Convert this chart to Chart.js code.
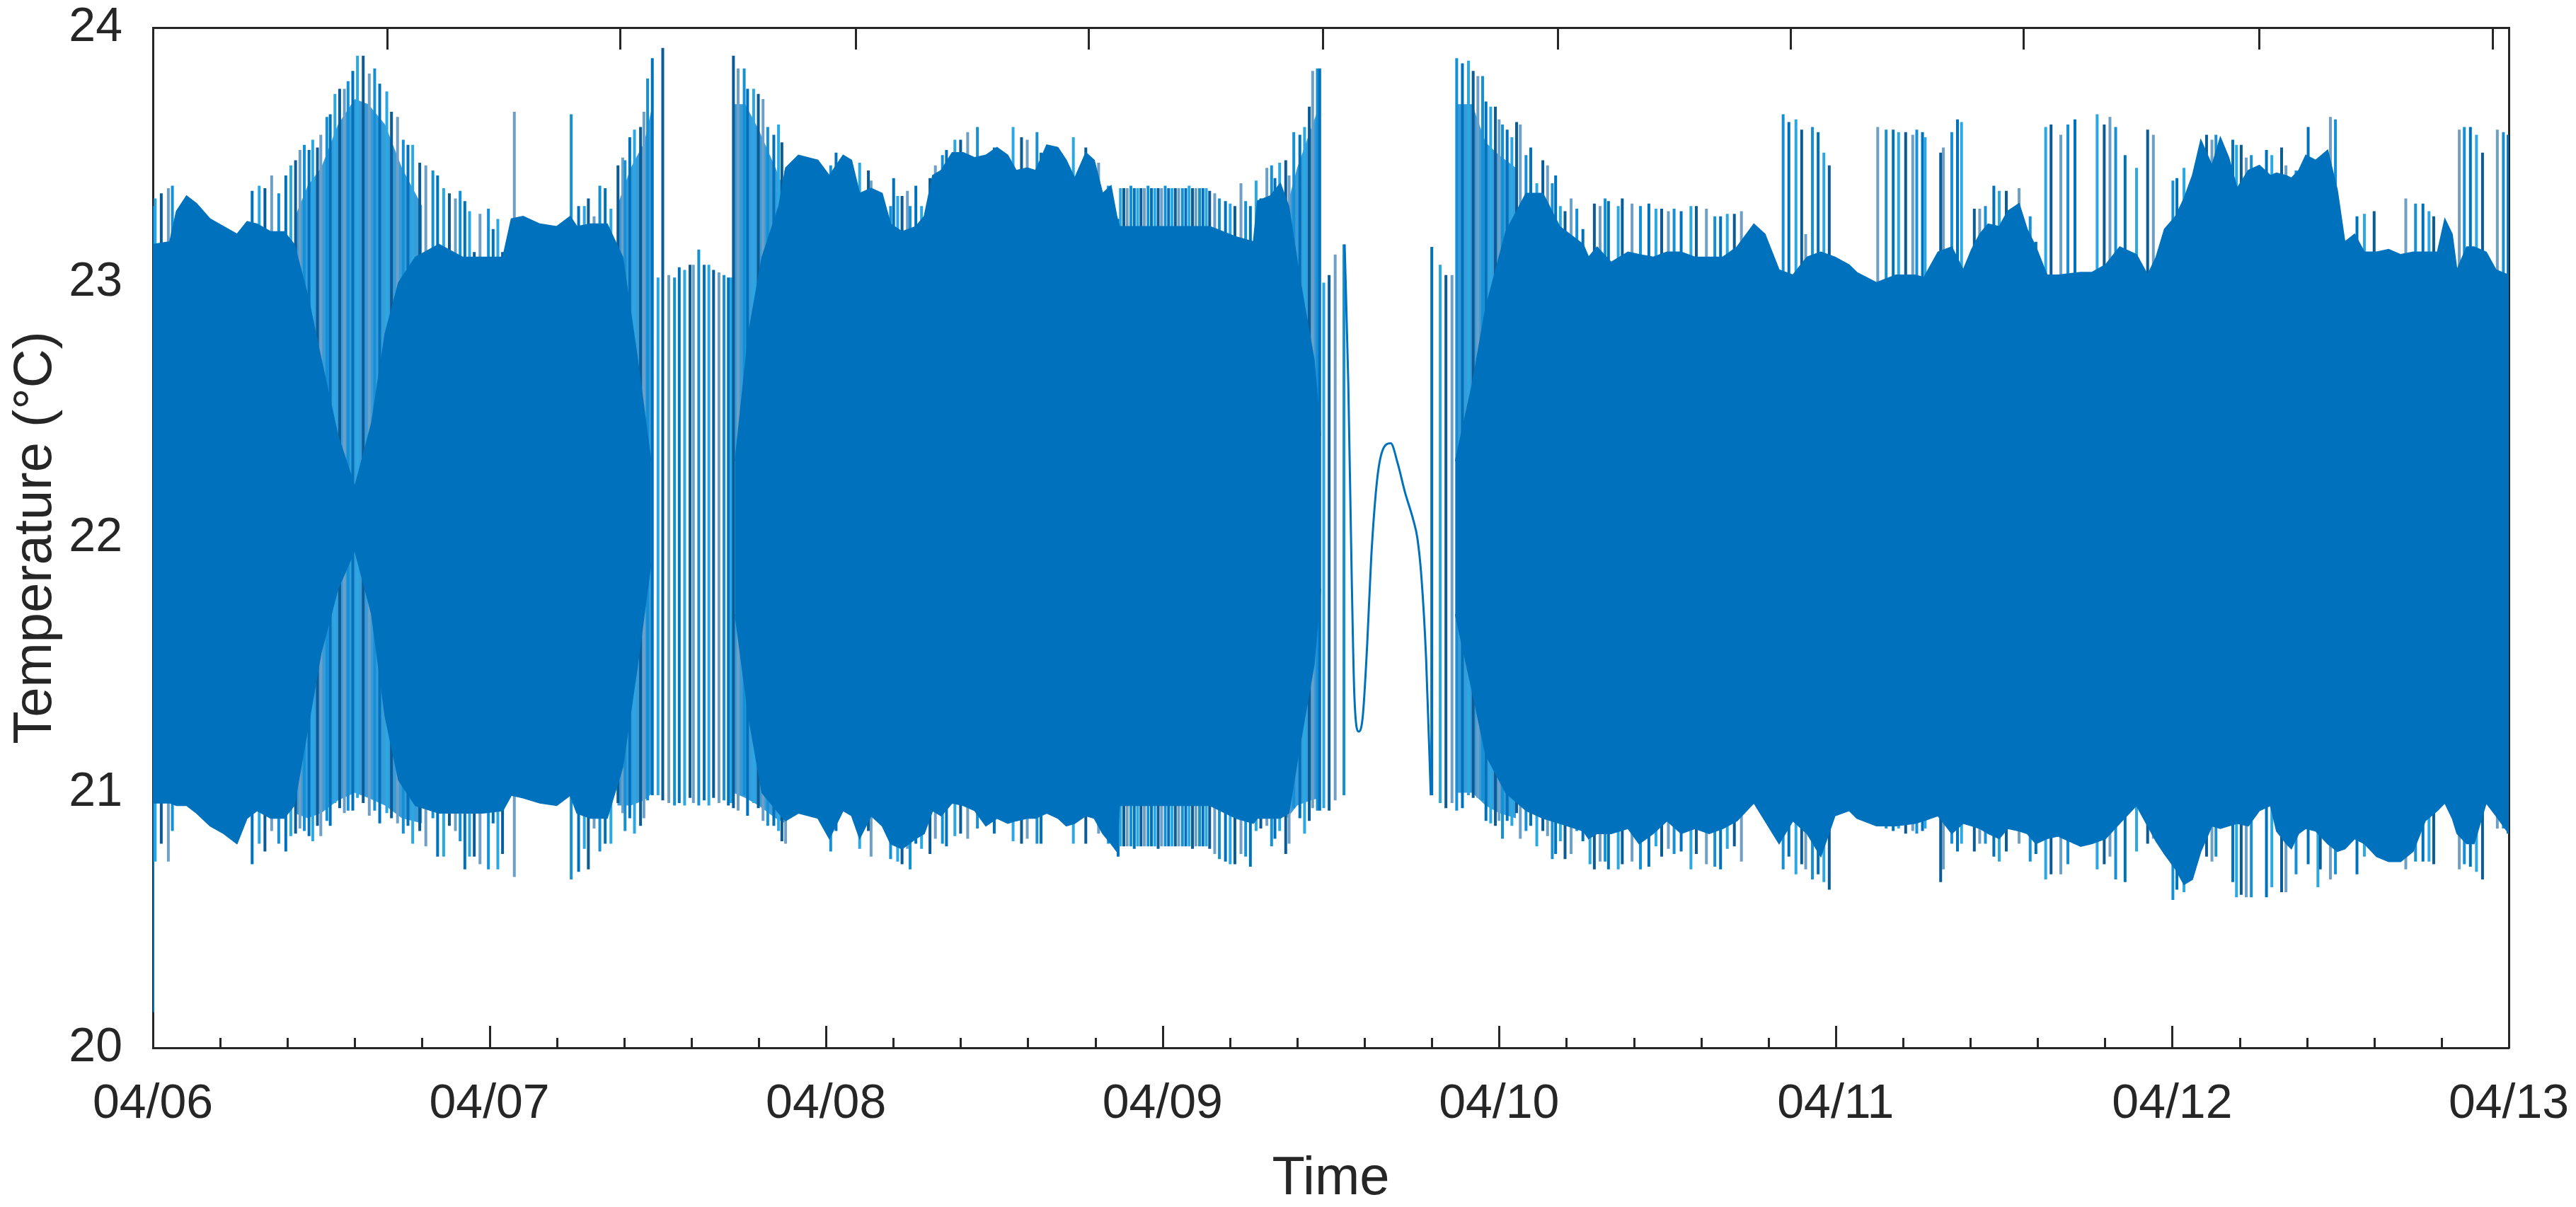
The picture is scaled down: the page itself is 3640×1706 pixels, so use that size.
<!DOCTYPE html>
<html>
<head>
<meta charset="utf-8">
<script src="https://cdn.jsdelivr.net/npm/chart.js@4.4.1/dist/chart.umd.min.js"></script>
<style>
  html, body { margin: 0; padding: 0; background: #fff; }
  #wrap { width: 3640px; height: 1706px; }
</style>
</head>
<body>
<div id="wrap"><canvas id="chart"></canvas></div>
<script>
// x values are days after 04/06 00:00
const dayLabels = ['04/06', '04/07', '04/08', '04/09', '04/10', '04/11', '04/12', '04/13'];
const tempTicks = [20, 21, 22, 23, 24];
const topTickDays = [0.696, 1.388, 2.088, 2.78, 3.475, 4.174, 4.866, 5.557, 6.257, 6.951];

// solid core of the oscillation (upper / lower edge), null where the trace is sparse
const bandDays = [
  0.000, 0.050, 0.070, 0.100, 0.130, 0.170, 0.210, 0.250, 0.280, 0.310,
  0.350, 0.390, 0.420, 0.460, 0.500, 0.550, 0.600, 0.650, 0.690, 0.730,
  0.780, 0.850, 0.920, 0.980, 1.040, 1.065, 1.100, 1.150, 1.200, 1.240,
  1.260, 1.300, 1.350, 1.396, 1.440, 1.480, 1.490, 1.730, 1.770, 1.810,
  1.860, 1.880, 1.918, 1.976, 2.010, 2.051, 2.076, 2.100, 2.134, 2.167,
  2.192, 2.226, 2.267, 2.292, 2.317, 2.342, 2.375, 2.408, 2.442, 2.475,
  2.508, 2.540, 2.565, 2.598, 2.623, 2.656, 2.689, 2.714, 2.739, 2.772,
  2.797, 2.822, 2.847, 2.864, 2.872, 3.141, 3.218, 3.270, 3.282, 3.320,
  3.350, 3.375, 3.410, 3.450, 3.470, 3.480, 3.870, 3.920, 3.960, 4.020,
  4.080, 4.130, 4.180, 4.250, 4.266, 4.291, 4.333, 4.383, 4.416, 4.458,
  4.499, 4.541, 4.582, 4.624, 4.665, 4.707, 4.757, 4.790, 4.832, 4.873,
  4.915, 4.956, 4.998, 5.040, 5.063, 5.121, 5.179, 5.237, 5.262, 5.304,
  5.345, 5.379, 5.404, 5.428, 5.453, 5.486, 5.511, 5.545, 5.569, 5.595,
  5.628, 5.661, 5.728, 5.761, 5.802, 5.844, 5.894, 5.927, 5.952, 5.977,
  6.010, 6.035, 6.060, 6.085, 6.118, 6.143, 6.168, 6.193, 6.226, 6.259,
  6.292, 6.310, 6.339, 6.354, 6.376, 6.397, 6.426, 6.462, 6.491, 6.513,
  6.542, 6.571, 6.607, 6.643, 6.679, 6.716, 6.752, 6.788, 6.810, 6.832,
  6.846, 6.875, 6.897, 6.933, 6.962, 7.000
];
const bandHi = [
  23.15, 23.16, 23.28, 23.34, 23.31, 23.25, 23.22, 23.19, 23.24, 23.23,
  23.20, 23.20, 23.15, 22.95, 22.70, 22.40, 22.20, 22.45, 22.80, 23.00,
  23.10, 23.15, 23.10, 23.10, 23.10, 23.25, 23.26, 23.23, 23.22, 23.26,
  23.22, 23.23, 23.23, 23.10, 22.70, 22.30, null, 22.30, 22.80, 23.10,
  23.30, 23.45, 23.50, 23.48, 23.42, 23.50, 23.48, 23.35, 23.37, 23.35,
  23.23, 23.20, 23.22, 23.26, 23.42, 23.44, 23.51, 23.51, 23.49, 23.50,
  23.53, 23.50, 23.44, 23.45, 23.44, 23.54, 23.53, 23.48, 23.41, 23.51,
  23.48, 23.35, 23.38, 23.26, 23.22, 23.22, 23.18, 23.16, 23.32, 23.34,
  23.39, 23.30, 23.00, 22.70, 22.40, null, 22.30, 22.60, 22.90, 23.20,
  23.35, 23.35, 23.22, 23.15, 23.10, 23.14, 23.08, 23.12, 23.11, 23.10,
  23.12, 23.12, 23.10, 23.10, 23.10, 23.14, 23.23, 23.19, 23.05, 23.03,
  23.10, 23.12, 23.10, 23.07, 23.04, 23.00, 23.03, 23.03, 23.02, 23.12,
  23.14, 23.05, 23.13, 23.19, 23.23, 23.22, 23.28, 23.31, 23.21, 23.14,
  23.03, 23.03, 23.04, 23.04, 23.07, 23.14, 23.11, 23.03, 23.10, 23.21,
  23.26, 23.33, 23.42, 23.56, 23.46, 23.57, 23.49, 23.37, 23.44, 23.46,
  23.42, 23.43, 23.42, 23.41, 23.44, 23.50, 23.48, 23.52, 23.36, 23.16,
  23.19, 23.12, 23.12, 23.13, 23.11, 23.12, 23.12, 23.12, 23.25, 23.19,
  23.05, 23.14, 23.14, 23.12, 23.05, 23.03
];
const bandLo = [
  20.96, 20.96, 20.95, 20.95, 20.92, 20.87, 20.84, 20.80, 20.90, 20.93,
  20.90, 20.90, 20.95, 21.25, 21.55, 21.80, 21.95, 21.70, 21.30, 21.05,
  20.95, 20.92, 20.92, 20.92, 20.93, 20.99, 20.98, 20.96, 20.95, 20.99,
  20.92, 20.90, 20.90, 21.10, 21.50, 21.90, null, 21.70, 21.30, 21.00,
  20.92, 20.89, 20.92, 20.90, 20.82, 20.93, 20.91, 20.82, 20.91, 20.87,
  20.80, 20.78, 20.82, 20.84, 20.93, 20.91, 20.96, 20.95, 20.93, 20.87,
  20.90, 20.88, 20.89, 20.90, 20.90, 20.92, 20.90, 20.87, 20.88, 20.91,
  20.90, 20.84, 20.80, 20.77, 20.95, 20.95, 20.90, 20.88, 20.90, 20.90,
  20.90, 20.92, 21.20, 21.50, 21.80, null, 21.70, 21.40, 21.15, 21.00,
  20.93, 20.90, 20.88, 20.85, 20.82, 20.84, 20.84, 20.86, 20.80, 20.84,
  20.89, 20.84, 20.86, 20.84, 20.86, 20.89, 20.96, 20.89, 20.80, 20.89,
  20.84, 20.75, 20.91, 20.93, 20.90, 20.87, 20.87, 20.88, 20.89, 20.91,
  20.84, 20.88, 20.87, 20.86, 20.84, 20.82, 20.86, 20.85, 20.84, 20.80,
  20.82, 20.83, 20.79, 20.80, 20.82, 20.88, 20.95, 20.87, 20.81, 20.76,
  20.70, 20.64, 20.66, 20.77, 20.87, 20.86, 20.87, 20.88, 20.87, 20.93,
  20.95, 20.85, 20.80, 20.78, 20.84, 20.86, 20.85, 20.80, 20.77, 20.78,
  20.82, 20.80, 20.75, 20.73, 20.73, 20.77, 20.89, 20.93, 20.96, 20.90,
  20.84, 20.80, 20.80, 20.96, 20.91, 20.84
];

// lighter striped zone where the cycles are just resolved
const hazeDays = [
  0.420, 0.460, 0.500, 0.550, 0.600, 0.640, 0.690, 0.740, 0.800, 0.810,
  1.380, 1.420, 1.460, 1.485, 1.490,
  1.725, 1.760, 1.800, 1.850, 1.880, 1.885,
  3.370, 3.400, 3.440, 3.468, 3.470,
  3.874, 3.920, 3.960, 4.000, 4.050, 4.060
];
const hazeHi = [
  23.25, 23.38, 23.45, 23.62, 23.72, 23.70, 23.62, 23.45, 23.30, null,
  23.30, 23.45, 23.55, 23.70, null,
  23.70, 23.70, 23.60, 23.45, 23.35, null,
  23.30, 23.45, 23.60, 23.70, null,
  23.70, 23.70, 23.55, 23.50, 23.45, null
];
const hazeLo = [
  20.92, 20.90, 20.92, 20.97, 21.00, 20.98, 20.95, 20.90, 20.88, null,
  20.95, 20.95, 20.97, 21.00, null,
  21.00, 20.98, 20.95, 20.90, 20.88, null,
  20.90, 20.95, 20.97, 20.98, null,
  21.00, 21.00, 20.95, 20.92, 20.90, null
];

// single cycles that stand out of the core (time, peak, trough)
const spikeDays = [
  0.000, 0.007, 0.025, 0.046, 0.058,
  0.295, 0.316, 0.333, 0.353, 0.374, 0.395, 0.410, 0.424, 0.437,
  0.450, 0.464, 0.475, 0.489, 0.499, 0.517, 0.527, 0.541, 0.555, 0.569,
  0.580, 0.594, 0.608, 0.625, 0.643, 0.659, 0.674, 0.695, 0.709, 0.727,
  0.744, 0.758, 0.772, 0.793, 0.811, 0.832, 0.846, 0.864, 0.881, 0.899,
  0.913, 0.927, 0.941, 0.955, 0.972, 0.997, 1.011, 1.025, 1.039, 1.074,
  1.243, 1.265, 1.282, 1.294, 1.311, 1.328, 1.344, 1.361, 1.382,
  1.396, 1.403, 1.417, 1.431, 1.449, 1.459, 1.470, 1.484, 1.501, 1.515,
  1.533, 1.550, 1.564, 1.580, 1.596, 1.606, 1.622, 1.638, 1.652, 1.666,
  1.682, 1.697, 1.710, 1.718, 1.725, 1.739, 1.757, 1.767, 1.785, 1.799,
  1.813, 1.827, 1.845, 1.859, 1.869, 1.880, 2.014, 2.030, 2.100, 2.126,
  2.134, 2.192, 2.201, 2.213, 2.226, 2.242, 2.250, 2.267, 2.284, 2.309,
  2.325, 2.346, 2.358, 2.383, 2.400, 2.421, 2.450, 2.500, 2.556, 2.581,
  2.598, 2.627, 2.639, 2.735, 2.772, 2.810, 2.839, 2.868,
  2.875, 2.885, 2.895, 2.906, 2.916, 2.926, 2.936, 2.946, 2.957,
  2.967, 2.977, 2.987, 2.997, 3.008, 3.018, 3.028, 3.038, 3.048,
  3.059, 3.069, 3.079, 3.089, 3.099, 3.110, 3.120, 3.130, 3.140,
  3.155, 3.169, 3.187, 3.201, 3.215, 3.233, 3.247, 3.261, 3.278, 3.292,
  3.310, 3.324, 3.334, 3.348, 3.366, 3.376, 3.390, 3.408, 3.422, 3.436,
  3.446, 3.460, 3.467, 3.479, 3.495, 3.513, 3.539,
  3.800, 3.825, 3.842, 3.860, 3.874, 3.891, 3.909, 3.923, 3.937, 3.951,
  3.961, 3.975, 3.989, 4.000, 4.010, 4.024, 4.038, 4.052, 4.063, 4.080,
  4.094, 4.112, 4.130, 4.144, 4.158, 4.168, 4.182, 4.196, 4.214, 4.231,
  4.249, 4.270, 4.283, 4.300, 4.315, 4.325, 4.354, 4.366, 4.395, 4.420,
  4.445, 4.466, 4.483, 4.503, 4.520, 4.541, 4.570, 4.586, 4.616, 4.641,
  4.658, 4.678, 4.699, 4.720, 4.844, 4.861, 4.882, 4.899, 4.911, 4.931,
  4.948, 4.965, 4.981, 5.125, 5.150, 5.171, 5.187, 5.208, 5.229, 5.241,
  5.258, 5.266, 5.312, 5.320, 5.345, 5.362, 5.374, 5.412, 5.428, 5.445,
  5.470, 5.486, 5.507, 5.545, 5.578, 5.595, 5.624, 5.640, 5.669, 5.690,
  5.711, 5.777, 5.798, 5.815, 5.832, 5.860, 5.894, 5.927, 5.944, 6.002,
  6.014, 6.035, 6.102, 6.118, 6.130, 6.180, 6.191, 6.205, 6.220, 6.235,
  6.280, 6.296, 6.325, 6.338, 6.368, 6.404, 6.433, 6.440, 6.470, 6.485,
  6.549, 6.571, 6.600, 6.694, 6.723, 6.745, 6.763, 6.777, 6.853, 6.868,
  6.886, 6.904, 6.922, 6.966, 6.984, 6.998
];
const spikeHi = [
  23.30, 23.33, 23.35, 23.37, 23.38,
  23.36, 23.38, 23.37, 23.42, 23.35, 23.42, 23.46, 23.48, 23.52,
  23.54, 23.52, 23.56, 23.53, 23.58, 23.65, 23.66, 23.74, 23.76, 23.76,
  23.79, 23.83, 23.89, 23.89, 23.82, 23.84, 23.78, 23.75, 23.67, 23.65,
  23.56, 23.54, 23.54, 23.47, 23.46, 23.44, 23.42, 23.37, 23.35, 23.33,
  23.36, 23.32, 23.28, 23.12, 23.27, 23.29, 23.21, 23.25, 23.12, 23.67,
  23.66, 23.30, 23.30, 23.33, 23.26, 23.38, 23.37, 23.29, 23.46,
  23.49, 23.48, 23.57, 23.60, 23.61, 23.67, 23.80, 23.88, 23.02, 23.92,
  23.03, 23.02, 23.06, 23.05, 23.07, 23.07, 23.13, 23.07, 23.07, 23.05,
  23.04, 23.03, 23.02, 23.02, 23.89, 23.84, 23.84, 23.76, 23.76, 23.74,
  23.72, 23.61, 23.58, 23.62, 23.55, 23.44, 23.46, 23.51, 23.47, 23.44,
  23.40, 23.30, 23.41, 23.34, 23.34, 23.36, 23.30, 23.38, 23.30, 23.41,
  23.46, 23.50, 23.52, 23.56, 23.56, 23.59, 23.61, 23.53, 23.61, 23.57,
  23.56, 23.59, 23.51, 23.57, 23.53, 23.47, 23.38, 23.25,
  23.37, 23.37, 23.37, 23.38, 23.37, 23.37, 23.37, 23.37, 23.38,
  23.37, 23.37, 23.37, 23.37, 23.38, 23.37, 23.37, 23.37, 23.37,
  23.37, 23.37, 23.38, 23.37, 23.37, 23.37, 23.37, 23.37, 23.36,
  23.35, 23.33, 23.32, 23.31, 23.30, 23.39, 23.32, 23.30, 23.40, 23.33,
  23.45, 23.46, 23.41, 23.47, 23.48, 23.42, 23.59, 23.58, 23.61, 23.69,
  23.83, 23.84, 23.84, 23.00, 23.03, 23.11, 23.15,
  23.14, 23.07, 23.03, 23.03, 23.88, 23.86, 23.87, 23.83, 23.81, 23.81,
  23.71, 23.69, 23.69, 23.64, 23.62, 23.60, 23.57, 23.63, 23.62, 23.50,
  23.53, 23.39, 23.48, 23.46, 23.39, 23.42, 23.30, 23.28, 23.33, 23.29,
  23.21, 23.10, 23.31, 23.30, 23.33, 23.32, 23.30, 23.33, 23.31, 23.30,
  23.31, 23.29, 23.29, 23.28, 23.29, 23.28, 23.30, 23.30, 23.29, 23.26,
  23.26, 23.27, 23.27, 23.28, 23.66, 23.63, 23.64, 23.60, 23.19, 23.61,
  23.59, 23.51, 23.46, 23.61, 23.60, 23.60, 23.59, 23.59, 23.58, 23.60,
  23.59, 23.57, 23.51, 23.53, 23.59, 23.64, 23.63, 23.29, 23.29, 23.30,
  23.38, 23.36, 23.36, 23.37, 23.26, 23.16, 23.61, 23.62, 23.58, 23.62,
  23.64, 23.66, 23.62, 23.65, 23.61, 23.50, 23.45, 23.60, 23.58, 23.40,
  23.41, 23.45, 23.58, 23.56, 23.58, 23.56, 23.54, 23.54, 23.49, 23.50,
  23.52, 23.50, 23.53, 23.46, 23.44, 23.61, 23.46, 23.46, 23.65, 23.64,
  23.26, 23.27, 23.28, 23.33, 23.31, 23.31, 23.28, 23.26, 23.60, 23.61,
  23.61, 23.58, 23.51, 23.60, 23.59, 23.58
];
const spikeLo = [
  20.14, 20.73, 20.80, 20.73, 20.85,
  20.72, 20.80, 20.77, 20.85, 20.80, 20.77, 20.83, 20.84, 20.86,
  20.85, 20.83, 20.81, 20.87, 20.83, 20.89, 20.87, 20.96, 20.94, 20.92,
  20.93, 20.93, 20.98, 20.96, 20.91, 20.93, 20.88, 20.92, 20.90, 20.88,
  20.84, 20.87, 20.80, 20.85, 20.79, 20.90, 20.75, 20.75, 20.87, 20.85,
  20.81, 20.70, 20.75, 20.75, 20.72, 20.70, 20.88, 20.70, 20.76, 20.67,
  20.66, 20.69, 20.78, 20.70, 20.86, 20.77, 20.80, 20.80, 20.96,
  20.92, 20.85, 20.90, 20.84, 20.87, 20.90, 20.97, 20.99, 20.99, 20.97,
  20.96, 20.95, 20.96, 20.95, 20.98, 20.96, 20.95, 20.97, 20.95, 20.98,
  20.96, 20.97, 20.95, 20.96, 20.94, 20.93, 20.99, 20.91, 20.96, 20.94,
  20.89, 20.87, 20.87, 20.85, 20.81, 20.80, 20.77, 20.85, 20.78, 20.85,
  20.75, 20.74, 20.80, 20.73, 20.72, 20.78, 20.70, 20.80, 20.78, 20.76,
  20.82, 20.80, 20.79, 20.83, 20.84, 20.82, 20.86, 20.84, 20.81, 20.80,
  20.82, 20.80, 20.80, 20.80, 20.80, 20.84, 20.80, 20.75,
  20.79, 20.79, 20.79, 20.79, 20.78, 20.79, 20.79, 20.79, 20.79,
  20.79, 20.79, 20.78, 20.79, 20.79, 20.79, 20.79, 20.79, 20.79,
  20.79, 20.79, 20.79, 20.78, 20.79, 20.79, 20.79, 20.79, 20.78,
  20.76, 20.74, 20.73, 20.72, 20.72, 20.76, 20.75, 20.71, 20.85, 20.86,
  20.87, 20.79, 20.82, 20.85, 20.76, 20.80, 20.94, 20.90, 20.84, 20.89,
  20.94, 20.93, 20.93, 20.94, 20.93, 20.97, 20.99,
  20.99, 20.96, 20.94, 20.96, 20.93, 20.94, 20.99, 20.98, 20.98, 20.97,
  20.89, 20.88, 20.87, 20.89, 20.82, 20.89, 20.87, 20.92, 20.82, 20.85,
  20.87, 20.79, 20.85, 20.83, 20.74, 20.76, 20.81, 20.74, 20.76, 20.85,
  20.81, 20.72, 20.70, 20.73, 20.73, 20.70, 20.70, 20.72, 20.73, 20.70,
  20.71, 20.79, 20.75, 20.78, 20.76, 20.77, 20.70, 20.76, 20.72, 20.71,
  20.70, 20.78, 20.79, 20.73, 20.70, 20.75, 20.68, 20.72, 20.70, 20.66,
  20.68, 20.65, 20.62, 20.91, 20.86, 20.85, 20.86, 20.84, 20.85, 20.84,
  20.85, 20.86, 20.65, 20.70, 20.80, 20.77, 20.80, 20.77, 20.80, 20.80,
  20.75, 20.73, 20.77, 20.80, 20.73, 20.76, 20.66, 20.68, 20.68, 20.72,
  20.80, 20.70, 20.72, 20.75, 20.66, 20.65, 20.77, 20.80, 20.82, 20.58,
  20.62, 20.61, 20.75, 20.73, 20.75, 20.65, 20.59, 20.60, 20.59, 20.59,
  20.59, 20.63, 20.61, 20.61, 20.68, 20.72, 20.63, 20.70, 20.66, 20.68,
  20.68, 20.75, 20.78, 20.70, 20.73, 20.73, 20.73, 20.72, 20.70, 20.72,
  20.71, 20.69, 20.66, 20.86, 20.86, 20.84
];

// slow swing on 04/09 afternoon
const curveDays = [3.541, 3.552, 3.562, 3.570, 3.583, 3.595, 3.608, 3.620, 3.637, 3.653, 3.678, 3.699, 3.720, 3.745, 3.757, 3.769, 3.783, 3.797];
const curveTemps = [23.15, 22.60, 21.85, 21.38, 21.24, 21.30, 21.58, 21.92, 22.22, 22.34, 22.37, 22.29, 22.18, 22.07, 22.00, 21.85, 21.53, 20.99];

const blue = '#0072BD';
const haze = '#3A9BD9';
const ink = '#262626';
const family = '"Liberation Sans", Arial, Helvetica, sans-serif';
const spikeColors = ['#0072BD', '#29A8E5', '#0B5C96', '#6E9FC6', '#1590D6'];
const minorPerDay = 5;

function pts(xs, ys) {
  return xs.map((x, i) => ({ x: x, y: ys[i] }));
}

const spikePts = [];
spikeDays.forEach((d, i) => {
  spikePts.push({ x: d, y: spikeLo[i] }, { x: d, y: spikeHi[i] }, { x: d, y: null });
});

// MATLAB style ticks pointing into the plot box
const inwardTicks = {
  id: 'inwardTicks',
  afterDatasetsDraw(chart) {
    const { ctx, chartArea } = chart;
    const x = chart.scales.x;
    const x2 = chart.scales.x2;
    ctx.save();
    ctx.strokeStyle = ink;
    ctx.lineWidth = 3;
    ctx.beginPath();
    for (let i = 0; i <= 7 * minorPerDay; i++) {
      const px = Math.round(x.getPixelForValue(i / minorPerDay)) + 0.5;
      const len = i % minorPerDay === 0 ? 31 : 14;
      ctx.moveTo(px, chartArea.bottom);
      ctx.lineTo(px, chartArea.bottom - len);
    }
    x2.ticks.forEach(t => {
      const px = Math.round(x2.getPixelForValue(t.value)) + 0.5;
      ctx.moveTo(px, chartArea.top);
      ctx.lineTo(px, chartArea.top + 31);
    });
    ctx.stroke();
    ctx.restore();
  }
};

const border = { display: true, color: ink, width: 3 };

function fixSize(w, h) {
  return s => {
    if (w !== null) s.width = w;
    if (h !== null) s.height = h;
    s.paddingTop = 0;
    s.paddingBottom = 0;
    s.paddingLeft = 0;
    s.paddingRight = 0;
  };
}

new Chart(document.getElementById('chart'), {
  type: 'line',
  data: {
    datasets: [
      {
        data: pts(bandDays, bandHi),
        borderColor: blue,
        backgroundColor: blue,
        borderWidth: 1.5,
        fill: '+1',
        pointRadius: 0,
        spanGaps: false
      },
      {
        data: pts(bandDays, bandLo),
        borderColor: blue,
        borderWidth: 1.5,
        fill: false,
        pointRadius: 0,
        spanGaps: false
      },
      {
        data: pts(curveDays, curveTemps),
        borderColor: blue,
        borderWidth: 3,
        fill: false,
        pointRadius: 0,
        cubicInterpolationMode: 'monotone'
      },
      {
        data: spikePts,
        borderColor: blue,
        borderWidth: 4,
        fill: false,
        pointRadius: 0,
        spanGaps: false,
        segment: {
          borderColor: c => spikeColors[Math.floor(c.p0DataIndex / 3) % spikeColors.length]
        }
      },
      {
        data: pts(hazeDays, hazeHi),
        borderColor: haze,
        backgroundColor: haze,
        borderWidth: 0,
        fill: '+1',
        pointRadius: 0,
        spanGaps: false
      },
      {
        data: pts(hazeDays, hazeLo),
        borderColor: haze,
        borderWidth: 0,
        fill: false,
        pointRadius: 0,
        spanGaps: false
      }
    ]
  },
  options: {
    responsive: true,
    maintainAspectRatio: false,
    animation: false,
    devicePixelRatio: 1,
    layout: { padding: 0 },
    plugins: {
      legend: { display: false },
      tooltip: { enabled: false }
    },
    scales: {
      x: {
        type: 'linear',
        position: 'bottom',
        min: 0,
        max: 7,
        afterBuildTicks: s => { s.ticks = dayLabels.map((_, i) => ({ value: i })); },
        afterFit: fixSize(null, 225),
        ticks: {
          callback: v => dayLabels[v],
          color: ink,
          font: { family: family, size: 68, lineHeight: 1 },
          padding: 38,
          maxRotation: 0,
          autoSkip: false
        },
        grid: { display: false },
        border: border,
        title: {
          display: true,
          text: 'Time',
          color: ink,
          font: { family: family, size: 76, lineHeight: 1 },
          padding: { top: 0, bottom: 1 }
        }
      },
      x2: {
        type: 'linear',
        position: 'top',
        min: 0,
        max: 7,
        afterBuildTicks: s => { s.ticks = topTickDays.map(v => ({ value: v })); },
        afterFit: fixSize(null, 39),
        ticks: { display: false },
        grid: { display: false },
        border: border
      },
      y: {
        type: 'linear',
        position: 'left',
        min: 20,
        max: 24,
        afterBuildTicks: s => { s.ticks = tempTicks.map(v => ({ value: v })); },
        afterFit: fixSize(216, null),
        ticks: {
          color: ink,
          font: { family: family, size: 68, lineHeight: 1 },
          padding: 35
        },
        grid: { display: false },
        border: border,
        title: {
          display: true,
          text: 'Temperature (°C)',
          color: ink,
          font: { family: family, size: 76, lineHeight: 1 },
          padding: { top: 13, bottom: 0 }
        }
      },
      y2: {
        type: 'linear',
        position: 'right',
        min: 20,
        max: 24,
        afterFit: fixSize(95, null),
        ticks: { display: false },
        grid: { display: false },
        border: border
      }
    }
  },
  plugins: [inwardTicks]
});
</script>
</body>
</html>
